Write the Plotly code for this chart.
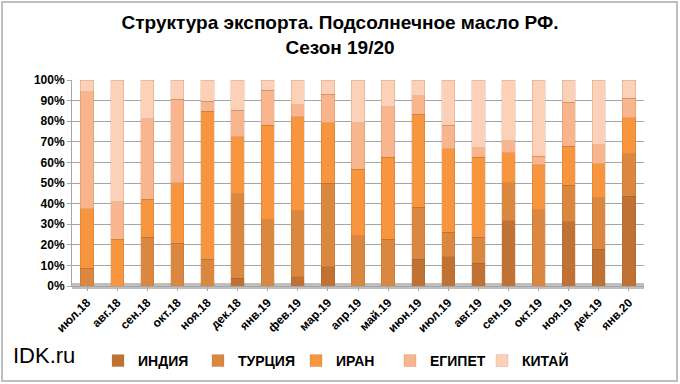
import plotly.graph_objects as go

categories = ["июл.18", "авг.18", "сен.18", "окт.18", "ноя.18", "дек.18", "янв.19",
              "фев.19", "мар.19", "апр.19", "май.19", "июн.19", "июл.19", "авг.19",
              "сен.19", "окт.19", "ноя.19", "дек.19", "янв.20"]

# shares (percent)
india  = [0.0, 0.0, 0.0, 0.0, 0.0, 3.7, 0.0, 4.6, 9.4, 0.0, 0.0, 13.0, 14.3, 11.1, 31.7, 0.0, 31.2, 17.9, 43.6]
turkey = [8.6, 0.0, 23.6, 20.8, 13.0, 41.0, 32.2, 32.0, 40.5, 24.4, 22.8, 25.2, 11.7, 12.5, 18.4, 37.1, 17.6, 24.9, 20.6]
iran   = [28.8, 22.8, 18.4, 29.3, 71.9, 27.7, 45.8, 45.5, 29.4, 32.2, 39.8, 45.1, 40.7, 39.0, 14.6, 21.8, 19.0, 16.5, 17.4]
egypt  = [56.9, 18.2, 39.3, 40.6, 4.9, 13.0, 17.1, 6.0, 13.7, 22.7, 24.4, 9.1, 11.3, 4.4, 5.9, 4.2, 21.3, 9.3, 9.5]
china  = [5.7, 59.0, 18.7, 9.3, 10.2, 14.6, 4.9, 11.9, 7.0, 20.7, 13.0, 7.6, 22.0, 33.0, 29.4, 36.9, 10.9, 31.4, 8.9]

series = [
    ("ИНДИЯ", india, "#c07234"),
    ("ТУРЦИЯ", turkey, "#da8840"),
    ("ИРАН", iran, "#f7963f"),
    ("ЕГИПЕТ", egypt, "#f9b58e"),
    ("КИТАЙ", china, "#fcd1b8"),
]

# plot area geometry in pixels
L, R, T, B = 72, 36, 80, 98
W, H = 680, 384
pw, ph = W - L - R, H - T - B

def px(x):
    return (x - L) / pw

def py(y):
    return (H - B - y) / ph

FONT = "Liberation Sans, Arial, sans-serif"
LEGFONT = "Liberation Sans Narrow, Arial Narrow, Liberation Sans, sans-serif"

legend_marker_x = [118, 218, 316, 410, 502]

fig = go.Figure()
legend_layouts = {}
for i, (name, vals, col) in enumerate(series):
    lname = "legend" if i == 0 else f"legend{i + 1}"
    fig.add_trace(go.Bar(
        x=categories, y=vals, name=name,
        marker=dict(color=col, line=dict(color="rgba(150,80,30,0.35)", width=0.5)),
        width=0.44,
        legend=lname,
    ))
    legend_layouts[lname] = dict(
        orientation="h",
        x=px(legend_marker_x[i] - 20), xanchor="left",
        y=py(361), yanchor="middle",
        font=dict(size=14, family=LEGFONT, color="black", weight="bold"),
        itemwidth=30,
        bgcolor="rgba(0,0,0,0)",
    )

fig.update_layout(
    width=W, height=H,
    margin=dict(l=L, r=R, t=T, b=B, autoexpand=False),
    barmode="stack",
    bargap=0.5,
    paper_bgcolor="white",
    plot_bgcolor="white",
    font=dict(family=FONT, color="black"),
    title=dict(
        text="<b>Структура экспорта. Подсолнечное масло РФ.<br>Сезон 19/20</b>",
        x=0.5, xanchor="center", xref="container",
        y=1 - 29 / H, yanchor="middle", yref="container",
        font=dict(size=19, family=FONT, color="black"),
    ),
    yaxis=dict(
        range=[0, 100], dtick=10, ticksuffix="%",
        showgrid=True, gridcolor="#a6a6a6", gridwidth=1,
        showline=True, linecolor="#a6a6a6", linewidth=1,
        ticks="outside", ticklen=4, tickcolor="#a6a6a6",
        tickfont=dict(size=12, family=FONT, color="black", weight="bold"),
        zeroline=False,
    ),
    xaxis=dict(
        tickangle=-45,
        showline=True, linecolor="#a6a6a6", linewidth=1,
        ticks="outside", ticklen=4, tickcolor="#a6a6a6",
        tickfont=dict(size=12, family=FONT, color="black", weight="bold"),
    ),
    showlegend=True,
    annotations=[
        dict(text="IDK.ru", xref="paper", yref="paper",
             x=px(11), y=py(355), xanchor="left", yanchor="middle",
             showarrow=False,
             font=dict(size=22, family=FONT, color="black")),
    ],
    shapes=[
        # floor of the plot
        dict(type="rect", xref="paper", yref="paper",
             x0=0, x1=1, y0=py(289), y1=py(283),
             fillcolor="#bfbfbf", line=dict(width=0), layer="below"),
        # outer frame
        dict(type="rect", xref="paper", yref="paper",
             x0=px(2), x1=px(677), y0=py(381), y1=py(2),
             line=dict(color="#bfbfbf", width=2), fillcolor="rgba(0,0,0,0)"),
    ],
    **legend_layouts,
)

fig.write_html("out.html", config={"displayModeBar": False},
               post_script="document.body.style.margin='0';")
